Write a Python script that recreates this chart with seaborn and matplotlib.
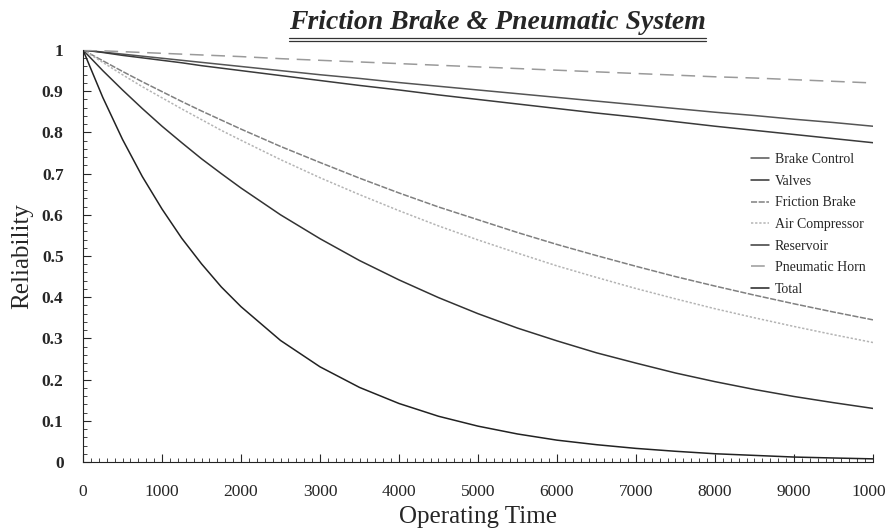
import numpy as np
import pandas as pd
import matplotlib
matplotlib.use("Agg")
import matplotlib.pyplot as plt
from matplotlib.lines import Line2D
from matplotlib.ticker import MultipleLocator
import seaborn as sns

# operating time (denser near the start where the curves bend most)
hours = [0, 250, 500, 750, 1000, 1250, 1500, 1750, 2000, 2500, 3000, 3500, 4000, 4500,
         5000, 5500, 6000, 6500, 7000, 7500, 8000, 8500, 9000, 9500, 10000]

# reliability
brake_control = [1, 0.995, 0.990, 0.985, 0.980, 0.975, 0.970, 0.965, 0.960, 0.950, 0.940,
                 0.931, 0.921, 0.912, 0.903, 0.894, 0.885, 0.876, 0.867, 0.858, 0.849,
                 0.841, 0.832, 0.824, 0.815]
valves = [1, 0.950, 0.903, 0.858, 0.815, 0.775, 0.736, 0.700, 0.665, 0.600, 0.542,
          0.489, 0.442, 0.399, 0.360, 0.325, 0.294, 0.265, 0.240, 0.216, 0.195,
          0.176, 0.159, 0.144, 0.130]
friction_brake = [1, 0.974, 0.948, 0.923, 0.899, 0.875, 0.852, 0.830, 0.808, 0.766, 0.727,
                  0.689, 0.653, 0.619, 0.588, 0.557, 0.528, 0.501, 0.475, 0.450, 0.427,
                  0.405, 0.384, 0.364, 0.345]
air_compressor = [1, 0.970, 0.940, 0.911, 0.884, 0.857, 0.831, 0.805, 0.781, 0.734, 0.690,
                  0.649, 0.610, 0.573, 0.539, 0.507, 0.476, 0.448, 0.421, 0.396, 0.372,
                  0.350, 0.329, 0.309, 0.290]
reservoir = [1, 0.994, 0.987, 0.981, 0.975, 0.969, 0.962, 0.956, 0.950, 0.938, 0.926,
             0.914, 0.903, 0.891, 0.880, 0.869, 0.858, 0.847, 0.837, 0.826, 0.815,
             0.805, 0.795, 0.785, 0.775]
pneumatic_horn = [1, 0.998, 0.996, 0.994, 0.992, 0.990, 0.988, 0.986, 0.984, 0.979, 0.975,
                  0.971, 0.967, 0.963, 0.959, 0.955, 0.951, 0.947, 0.943, 0.939, 0.935,
                  0.932, 0.928, 0.924, 0.920]
total = [1, 0.885, 0.783, 0.693, 0.614, 0.543, 0.481, 0.425, 0.377, 0.295, 0.231,
         0.181, 0.142, 0.111, 0.087, 0.068, 0.053, 0.042, 0.033, 0.026, 0.020,
         0.016, 0.012, 0.0097, 0.0076]

names = ["Brake Control", "Valves", "Friction Brake", "Air Compressor",
         "Reservoir", "Pneumatic Horn", "Total"]
series = [brake_control, valves, friction_brake, air_compressor,
          reservoir, pneumatic_horn, total]

df = pd.concat([pd.DataFrame({"time": hours, "reliability": s, "component": n})
                for n, s in zip(names, series)], ignore_index=True)

sns.set_style("ticks")
plt.rcParams["font.family"] = ["Liberation Serif", "DejaVu Serif"]

palette = {"Brake Control": "#555555", "Valves": "#333333", "Friction Brake": "#808080",
           "Air Compressor": "#b4b4b4", "Reservoir": "#3a3a3a",
           "Pneumatic Horn": "#9a9a9a", "Total": "#222222"}
dashes = {"Brake Control": "", "Valves": "", "Friction Brake": (4, 1),
          "Air Compressor": (1.5, 1.2), "Reservoir": "",
          "Pneumatic Horn": (9, 5), "Total": ""}

fig = plt.figure(figsize=(8.86, 5.32), dpi=100)
ax = fig.add_axes([0.0937, 0.1316, 0.8916, 0.7744])

sns.lineplot(data=df, x="time", y="reliability", hue="component", style="component",
             hue_order=names, style_order=names, palette=palette, dashes=dashes,
             lw=1.1, ax=ax, errorbar=None, estimator=None)

ax.set_xlim(0, 10000)
ax.set_ylim(0, 1)
ax.xaxis.set_major_locator(MultipleLocator(1000))
ax.xaxis.set_minor_locator(MultipleLocator(100))
ax.yaxis.set_minor_locator(MultipleLocator(0.02))
ax.set_yticks(np.arange(0, 1.01, 0.1))
ax.set_yticklabels(["0"] + [f"{v:.1f}" for v in np.arange(0.1, 0.95, 0.1)] + ["1"],
                   fontweight="bold")
ax.tick_params(which="major", direction="in", length=6, width=0.8, labelsize=12.5)
ax.tick_params(which="minor", direction="in", length=3, width=0.6)
ax.tick_params(axis="x", pad=16)
ax.tick_params(axis="y", pad=14)
sns.despine(ax=ax)
for sp in ["left", "bottom"]:
    ax.spines[sp].set_color("#222222")
    ax.spines[sp].set_linewidth(0.8)

ax.set_xlabel("Operating Time", fontsize=18, labelpad=4)
ax.set_ylabel("Reliability", fontsize=18, labelpad=6)

leg = ax.legend(loc="upper left", bbox_to_anchor=(0.83, 0.78), frameon=False,
                fontsize=10, handlelength=1.3, handletextpad=0.4, labelspacing=0.62)
leg.set_title(None)

title = fig.text(0.562, 0.957, "Friction Brake & Pneumatic System", ha="center",
                 va="center", fontsize=20, fontweight="bold", fontstyle="italic")

# double underline under the title
fig.canvas.draw()
bb = title.get_window_extent().transformed(fig.transFigure.inverted())
for off in (0.004, 0.010):
    fig.add_artist(Line2D([bb.x0, bb.x1], [bb.y0 - off, bb.y0 - off],
                          transform=fig.transFigure, color="#333333", lw=0.9))

fig.savefig("out.png", dpi=100)
